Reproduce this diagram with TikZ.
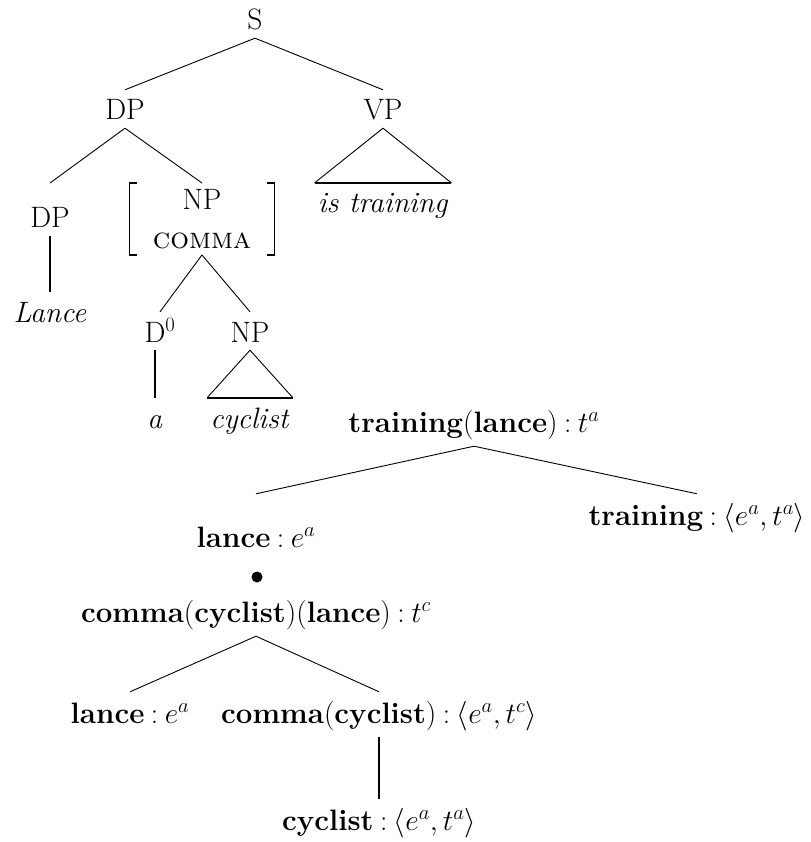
\RequirePackage{fix-cm}
\documentclass[tikz,border=0pt]{standalone}

\newcommand{\tcolon}{\hspace{0.22em}:\hspace{0.22em}}

\begin{document}
\begin{tikzpicture}[x=1pt, y=-1pt,
    every node/.style={font=\fontsize{29.5}{36}\selectfont, inner sep=3pt},
    cat/.style={anchor=base, text height=27pt, text depth=5pt},
    sem/.style={anchor=base, text height=28pt, text depth=11pt},
    branch/.style={line width=0.9pt},
    unary/.style={line width=1.6pt}]
\useasboundingbox (0,0) rectangle (810,842);

% syntax tree
\node[cat] (s) at (255,30) {S};
\node[cat] (dp) at (125,120) {DP};
\node[cat] (vp) at (383,120) {VP};
\node[cat] (istr) at (383,213) {\textit{is training}};
\node[cat] (dpl) at (50,228) {DP};
\node[anchor=north, align=center, inner xsep=23pt, inner ysep=6pt,
      font=\fontsize{29.5}{39}\selectfont] (npc) at (202,183) {NP\\\textsc{comma}};
\node[cat] (lance) at (50,322) {\textit{Lance}};
\node[cat] (d0) at (160,342) {D$^0$};
\node[cat] (np) at (250,342) {NP};
\node[cat] (art) at (155,428) {\textit{a}};
\node[cat] (cyc) at (250,428) {\textit{cyclist}};

\draw[branch] (s.south) -- (dp.north);
\draw[branch] (s.south) -- (vp.north);
\draw[branch] (dp.south) -- (dpl.north |- npc.north);
\draw[branch] (dp.south) -- (npc.north);
\draw[unary] (dpl.south) -- (lance.north);
\draw[branch] (npc.south) -- (d0.north);
\draw[branch] (npc.south) -- (np.north);
\draw[unary] (art.north |- d0.south) -- (art.north);
\draw[branch] (istr.north west) -- (vp.south) -- (istr.north east);
\draw[unary] (istr.north west) -- (istr.north east);
\draw[branch] (cyc.north west) -- (np.south) -- (cyc.north east);
\draw[unary] (cyc.north west) -- (cyc.north east);

% bracket
\draw[unary] ([xshift=7pt]npc.north west) -- (npc.north west) -- (npc.south west) -- ([xshift=7pt]npc.south west);
\draw[unary] ([xshift=-7pt]npc.north east) -- (npc.north east) -- (npc.south east) -- ([xshift=-7pt]npc.south east);

% semantic tree
\node[sem] (tl) at (474,432) {\textbf{training}(\textbf{lance})\tcolon$t^a$};
\node[sem] (tr) at (697,525) {\textbf{training}\tcolon$\langle e^a, t^a\rangle$};
\node[sem] (la) at (256,547) {\textbf{lance}\tcolon$e^a$};
\node[circle, fill, inner sep=0pt, minimum size=11pt] (dot) at (257,577) {};
\node[sem] (cl) at (256,622) {\textbf{comma}(\textbf{cyclist})(\textbf{lance})\tcolon$t^c$};
\node[sem] (lb) at (130,723) {\textbf{lance}\tcolon$e^a$};
\node[sem] (cc) at (379,723) {\textbf{comma}(\textbf{cyclist})\tcolon$\langle e^a, t^c\rangle$};
\node[sem] (cy) at (379,830) {\textbf{cyclist}\tcolon$\langle e^a, t^a\rangle$};

\draw[branch] (tl.south) -- (la.north |- tr.north);
\draw[branch] (tl.south) -- (tr.north);
\draw[branch] (cl.south) -- (lb.north);
\draw[branch] (cl.south) -- (cc.north);
\draw[unary] (cc.south) -- (cy.north);
\end{tikzpicture}
\end{document}
